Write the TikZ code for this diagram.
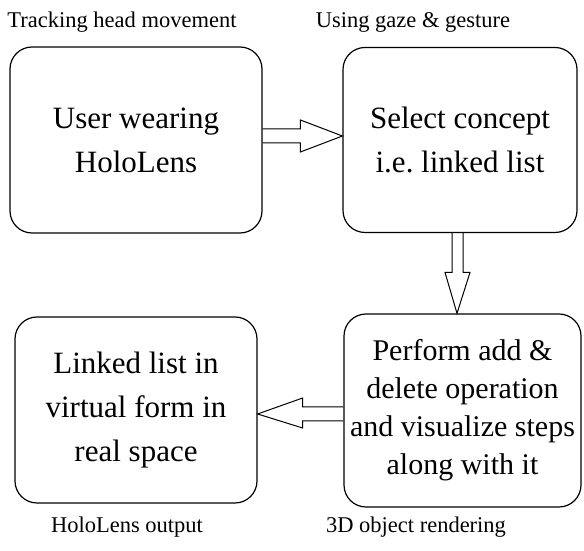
\documentclass[tikz,border=0pt]{standalone}
\usepackage{fontspec}
\setmainfont{Liberation Serif}
\usepackage{tikz}
\usetikzlibrary{calc}
\tikzset{>=stealth}
\tikzset{box/.style={draw, line width=1.2pt, rounded corners=22pt, align=center,
        font=\fontsize{31}{44}\selectfont},
    lab/.style={anchor=base, font=\fontsize{22.5}{27}\selectfont},
    fatarrow/.style={draw, line width=1pt}}

\begin{document}
\begin{tikzpicture}[x=1pt,y=1pt]
            \useasboundingbox (0,0) rectangle (584,551);
            \node[box, minimum width=252pt, minimum height=186pt] (user) at (136,411) {User wearing\\HoloLens};
            \node[box, minimum width=234pt, minimum height=185pt] (concept) at (460,411) {Select concept\\i.e.\ linked list};
            \node[box, minimum width=237pt, minimum height=193pt, font=\fontsize{30}{38}\selectfont] (operate) at (462.5,140.5) {Perform add \&\\delete operation\\and visualize steps\\along with it};
            \node[box, minimum width=242pt, minimum height=186pt] (output) at (136,141) {Linked list in\\virtual form in\\real space};
            
            \node[lab] (track) at (122,523) {Tracking head movement};
            \node[lab] (gaze) at (413,523) {Using gaze \& gesture};
            \node[lab] (holo) at (127,18) {HoloLens output};
            \node[lab] (render) at (416,18) {3D object rendering};
            
            \path[fatarrow] let \p1=(user.east), \p2=(concept.west) in
                (\x1,\y1+11pt) -- (\x2-42pt,\y1+11pt) -- (\x2-42pt,\y1+20pt) -- (\x2,\y1+4pt)
                -- (\x2-42pt,\y1-12pt) -- (\x2-42pt,\y1-3pt) -- (\x1,\y1-3pt);
            \path[fatarrow] let \p1=(concept.south), \p2=(operate.north) in
                (\x1-8pt,\y1) -- (\x1-8pt,\y2+41pt) -- (\x1-15pt,\y2+41pt) -- (\x1-3pt,\y2)
                -- (\x1+10pt,\y2+41pt) -- (\x1+3pt,\y2+41pt) -- (\x1+3pt,\y1);
            \path[fatarrow] let \p1=(operate.west), \p2=(output.east) in
                (\x1,\y1+3.5pt) -- (\x2+45pt,\y1+3.5pt) -- (\x2+45pt,\y1+12.5pt) -- (\x2,\y1-3.5pt)
                -- (\x2+45pt,\y1-17.5pt) -- (\x2+45pt,\y1-10.5pt) -- (\x1,\y1-10.5pt);
            
            \end{tikzpicture}
\end{document}
